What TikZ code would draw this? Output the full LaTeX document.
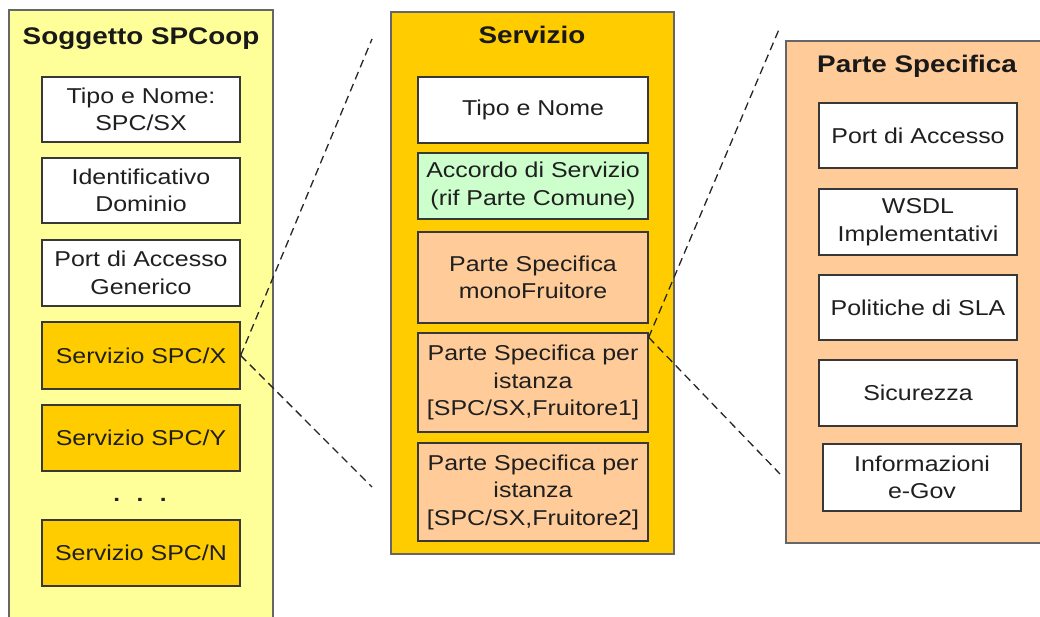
\documentclass[tikz,border=0pt]{standalone}
\usepackage{fontspec}
\setmainfont{Liberation Sans}[FakeStretch=1.16]
\usetikzlibrary{calc}
\definecolor{lyellow}{HTML}{FFFF99}
\definecolor{gold}{HTML}{FFCC00}
\definecolor{peach}{HTML}{FFCC99}
\definecolor{lgreen}{HTML}{CCFFCC}
\begin{document}
\begin{tikzpicture}[x=1pt,y=-1pt,
  cont/.style={draw=black!60, line width=1.3pt},
  item/.style={draw=black!78, line width=1.3pt, align=center, inner sep=0pt,
    text=black!88, font=\fontsize{21.5}{27.5}\selectfont},
  lw/.style={item, minimum width=198pt},
  mw/.style={item, minimum width=230pt},
  ttl/.style={anchor=base, text=black!90, font=\fontsize{24}{28}\selectfont\bfseries},
  zoomline/.style={line width=1.3pt, black!85, dash pattern=on 8pt off 5pt}]
\useasboundingbox (0,0) rectangle (1040,617);
\fill[white] (0,0) rectangle (1040,617);
% containers
\path[cont, fill=lyellow] (9,10) rectangle (273,640);
\path[cont, fill=gold] (391,12) rectangle (674,554);
\path[cont, fill=peach] (786,41) rectangle (1070,543);
% titles
\node[ttl] (t1) at (141,45) {Soggetto SPCoop};
\node[ttl] (t2) at (532,44) {Servizio};
\node[ttl] (t3) at (917,73) {Parte Specifica};
% left column
\node[lw, fill=white, minimum height=65pt] (a1) at (141,109.5) {Tipo e Nome:\\SPC/SX};
\node[lw, fill=white, minimum height=65pt] (a2) at (141,190.5) {Identificativo\\Dominio};
\node[lw, fill=white, minimum height=66pt] (a3) at (141,273) {Port di Accesso\\Generico};
\node[lw, fill=gold, minimum height=67pt] (a4) at (141,355.5) {Servizio SPC/X};
\node[lw, fill=gold, minimum height=66pt] (a5) at (141,438) {Servizio SPC/Y};
\node[item, draw=none, font=\fontsize{21}{27.5}\selectfont\bfseries] (dots) at (140,499.5) {.\hspace{16.5pt}.\hspace{16.5pt}.};
\node[lw, fill=gold, minimum height=66pt] (a6) at (141,553) {Servizio SPC/N};
% middle column
\node[mw, fill=white, minimum height=66pt] (b1) at (533,110) {Tipo e Nome};
\node[mw, fill=lgreen, minimum height=66pt] (b2) at (533,186) {Accordo di Servizio\\(rif Parte Comune)};
\node[mw, fill=peach, minimum height=91pt] (b3) at (533,277.5) {Parte Specifica\\monoFruitore};
\node[mw, fill=peach, minimum height=99pt] (b4) at (533,382.5) {Parte Specifica per\\istanza\\{}[SPC/SX,Fruitore1]};
\node[mw, fill=peach, minimum height=98pt] (b5) at (533,492) {Parte Specifica per\\istanza\\{}[SPC/SX,Fruitore2]};
% right column
\node[lw, fill=white, minimum height=65pt] (c1) at (918,135.5) {Port di Accesso};
\node[lw, fill=white, minimum height=66pt] (c2) at (918,222) {WSDL\\Implementativi};
\node[lw, fill=white, minimum height=65pt] (c3) at (918,307.5) {Politiche di SLA};
\node[lw, fill=white, minimum height=66pt] (c4) at (918,393) {Sicurezza};
\node[lw, fill=white, minimum height=67pt] (c5) at (922,477.5) {Informazioni\\e-Gov};
% zoom lines
\coordinate (z1) at (372,39);
\coordinate (z2) at (372,487);
\coordinate (z3) at (780,27);
\coordinate (z4) at (780,474);
\draw[zoomline] (a4.east) -- (z1);
\draw[zoomline] (a4.east) -- (z2);
\draw[zoomline] ($(b4.north east)!0.05!(b4.south east)$) -- (z3);
\draw[zoomline] ($(b4.north east)!0.05!(b4.south east)$) -- (z4);
\end{tikzpicture}
\end{document}
